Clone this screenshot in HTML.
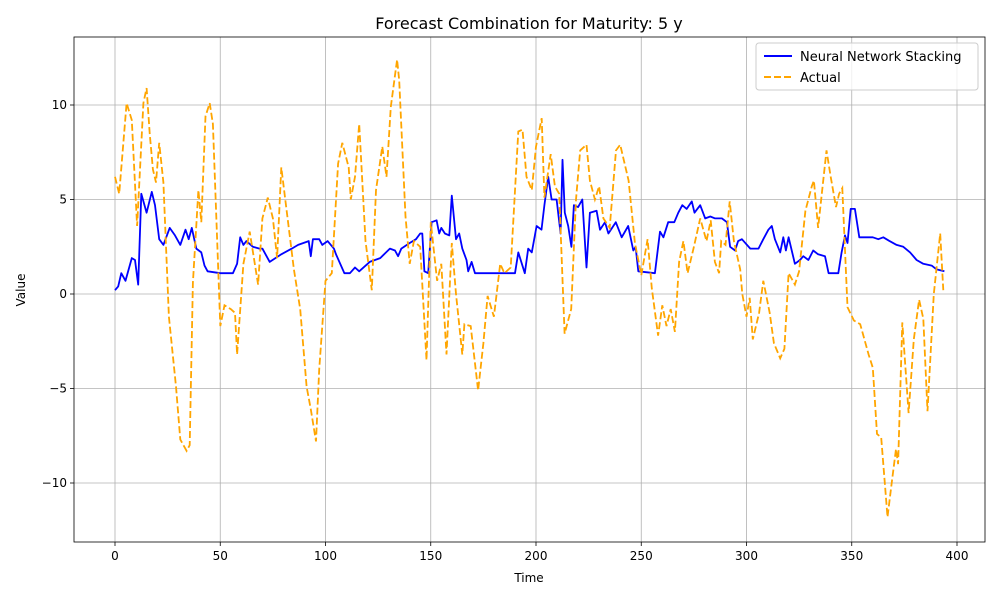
<!DOCTYPE html>
<html><head><meta charset="utf-8"><style>
body{margin:0;background:#fff;font-family:"Liberation Sans","DejaVu Sans",sans-serif;}
svg text{font-family:"DejaVu Sans","Liberation Sans",sans-serif;}
</style></head><body>
<svg id="chart" width="1000" height="600" viewBox="0 0 1000 600" xmlns="http://www.w3.org/2000/svg">
<rect width="1000" height="600" fill="#fff"/>
<g id="grid"></g><g id="series"></g><g id="axes"></g>
<text x="529" y="29" font-size="16" text-anchor="middle" fill="#000">Forecast Combination for Maturity: 5 y</text>
<text x="529" y="582" font-size="12" text-anchor="middle">Time</text>
<text x="25" y="290" font-size="12" text-anchor="middle" transform="rotate(-90 25 290)">Value</text>
<g>
<rect x="756" y="43" width="222" height="47" rx="3" fill="#fff" fill-opacity="0.8" stroke="#ccc"/>
<line x1="764" y1="56" x2="792" y2="56" stroke="#0000ff" stroke-width="2"/>
<text x="800" y="61" font-size="13">Neural Network Stacking</text>
<line x1="764" y1="77" x2="792" y2="77" stroke="#ffa500" stroke-width="2" stroke-dasharray="7,3"/>
<text x="800" y="82" font-size="13">Actual</text>
</g>
</svg>
<script>
const xTicks=[0,50,100,150,200,250,300,350,400];
const yTicks=[-10,-5,0,5,10];
const nnT=[0,1.5,3,5,8,9.5,11,12.5,15,17.5,19,21,23,26,28.5,31,33.5,35,36.5,38.6,41,42.5,44,50,56,58,59.5,61,62.4,65.5,68.6,70,73.5,79,84,87,92,93,94,97,98.5,101,104,105,109,111.6,114,116,121,126,130.6,133,134.5,136,140,143,145,146,147,148.8,150.4,152.8,154,155,156.7,158.8,160,162,163.5,165,167,167.8,169.4,171,190,191.6,194.7,196.3,198,200.3,202.6,204,205.8,207.4,209.8,211.7,212.6,213.7,215.3,216.8,218,220,222,224,225.6,228.8,230.4,232.8,234.4,237.9,240.7,243.8,246.2,247.3,248.6,256.5,258.9,260.5,262.8,265.7,267.6,269.5,271.6,274,275.3,278,280.4,282.8,285.1,288.3,290.7,292.2,294.6,296,297.8,301.8,305.7,308,310.4,312,313.5,316,317.5,318.7,320,323,325.4,327,329.4,331.7,334,337.3,339,343.6,345.2,346.8,348,349.5,351.5,353.6,357,360,362.6,365,368,371.3,374.5,377.7,380.8,384,388,390.3,394];
const nnV=[0.2,0.4,1.1,0.7,1.9,1.8,0.5,5.3,4.3,5.4,4.7,2.9,2.6,3.5,3.1,2.6,3.4,2.9,3.5,2.4,2.2,1.5,1.2,1.1,1.1,1.6,3,2.6,2.8,2.5,2.4,2.4,1.7,2.1,2.4,2.6,2.8,2,2.9,2.9,2.6,2.8,2.4,2.1,1.1,1.1,1.4,1.2,1.7,1.9,2.4,2.3,2,2.4,2.7,2.9,3.2,3.2,1.2,1.1,3.8,3.9,3.2,3.5,3.2,3.1,5.2,2.9,3.2,2.4,1.8,1.2,1.7,1.1,1.1,2.2,1.1,2.4,2.2,3.6,3.4,4.7,6.2,5,5,3.2,7.1,4.3,3.6,2.5,4.7,4.6,5,1.4,4.3,4.4,3.4,3.8,3.2,3.8,3,3.6,2.3,2.5,1.2,1.1,3.3,3,3.8,3.8,4.3,4.7,4.5,4.9,4.3,4.7,4,4.1,4,4,3.8,2.5,2.3,2.8,2.9,2.4,2.4,2.9,3.4,3.6,2.9,2.2,3,2.3,3,1.6,1.8,2,1.8,2.3,2.1,2,1.1,1.1,2.2,3.1,2.7,4.5,4.5,3,3,3,2.9,3,2.8,2.6,2.5,2.2,1.8,1.6,1.5,1.3,1.2];
const actT=[0,2,5.5,8,10.5,13.5,15,16.5,18,19.5,21,23,25.6,29,31,34,35.5,37,39.6,41,43,45,46.5,50,52,55,57,58,61,64,68,70,72.6,75,77,79,82,85,88,91,93,95.5,97,100,103,106,108,111,112,114,116,119,122,124,127,129,131,134,135,138,140,142,145,148,150,153,155,157.5,160,162,165,166,169,172.5,175,177,180,183,185,188,191.6,193.6,195.5,198,200,202.7,204,207,209,211,213.6,216.7,219,221,224,225.6,228,230,232,235,238,240,244,247,250,253,255,258,260,262,264,266,268,270,272,275,278,281,283,285,287,288,290,292,294,297,298,300,301.5,303,306,308,311,313,316,318,320,323,325,328,331,332,334,338,340,342.5,344,345.5,348,351,354,358,360,362,364,367,369,371,372,374,377,379.5,382,384,386,389,392,393.5];
const actV=[6.2,5.3,10.1,9.2,3.6,10.1,10.9,8.5,6.6,5.9,8,5.9,-1.2,-4.9,-7.7,-8.3,-8,0.6,5.5,3.8,9.4,10.1,9,-1.7,-0.6,-0.8,-1,-3.2,1.6,3.3,0.5,4,5.1,4,1.9,6.7,4,1.3,-0.8,-4.9,-6.1,-7.8,-4,0.7,1.1,6.9,8,6.7,5,6.2,9,2.8,0.2,5.5,7.8,6.2,9.9,12.4,11.3,4.1,1.6,2.8,2.5,-3.5,3.8,0.7,1.6,-3.2,2.7,0,-3.2,-1.6,-1.7,-5.1,-2.6,-0.1,-1.2,1.6,1.1,1.4,8.6,8.7,6.2,5.5,7.8,9.3,5.1,7.4,5.7,5.3,-2.1,-0.8,5,7.6,7.9,6,5,5.7,4,3.5,7.6,7.9,6,2.7,1,2.9,0.3,-2.2,-0.6,-1.7,-0.8,-2,1.7,2.8,1.1,2.5,4,2.8,3.9,1.7,1.1,2.8,2.6,4.9,2.8,1.3,0,-1.2,-0.2,-2.4,-1,0.7,-1,-2.6,-3.4,-2.9,1.1,0.5,1.2,4.4,5.7,6,3.5,7.6,6.2,4.6,5.3,5.6,-0.7,-1.4,-1.6,-3.2,-3.9,-7.4,-7.6,-11.8,-10,-8.2,-9,-1.5,-6.3,-2.4,-0.3,-1.3,-6.2,0,3.2,0.2];
const L=74,R=985,T=37,B=542;
const xs=t=>115+t*(957-115)/400;
const ys=v=>294-v*18.9;
const NS="http://www.w3.org/2000/svg";
function mk(tag,attrs,parent){const e=document.createElementNS(NS,tag);for(const k in attrs)e.setAttribute(k,attrs[k]);parent.appendChild(e);return e;}
const grid=document.getElementById('grid'),axes=document.getElementById('axes'),series=document.getElementById('series');
xTicks.forEach(t=>{const x=xs(t);
 const g=mk('line',{x1:x,x2:x,y1:T,y2:B,stroke:'#b0b0b0','stroke-width':0.8},grid);
 
 
 mk('line',{x1:x,x2:x,y1:B,y2:B+4,stroke:'#000','stroke-width':0.8},axes);
 const tx=mk('text',{x:x,y:B+18,'font-size':12,'text-anchor':'middle'},axes);tx.textContent=t;
 
 });
yTicks.forEach(v=>{const y=ys(v);
 const g=mk('line',{x1:L,x2:R,y1:y,y2:y,stroke:'#b0b0b0','stroke-width':0.8},grid);
 
 
 mk('line',{x1:L-4,x2:L,y1:y,y2:y,stroke:'#000','stroke-width':0.8},axes);
 const tx=mk('text',{x:L-7,y:y+4,'font-size':12,'text-anchor':'end'},axes);tx.textContent=(v<0?'\u2212'+(-v):v);
 
 });
const fr=mk('rect',{x:L,y:T,width:R-L,height:B-T,fill:'none',stroke:'#000','stroke-width':0.8},axes);


function pts(tA,vA){return tA.map((t,i)=>xs(t).toFixed(1)+','+ys(vA[i]).toFixed(1)).join(' ');}
const p1=mk('polyline',{points:pts(nnT,nnV),fill:'none',stroke:'#0000ff','stroke-width':1.8,'stroke-linejoin':'round'},series);


const p2=mk('polyline',{points:pts(actT,actV),fill:'none',stroke:'#ffa500','stroke-width':1.8,'stroke-dasharray':'7,3'},series);


</script>
</body></html>
